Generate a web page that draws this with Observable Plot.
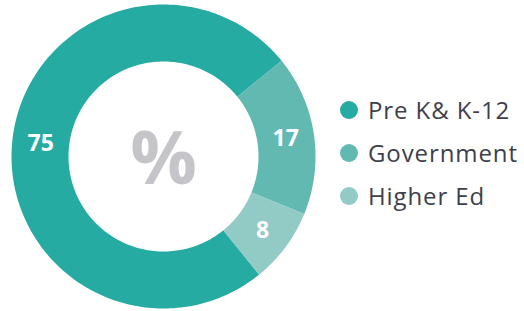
<!DOCTYPE html>
<html><head><meta charset="utf-8">
<script src="https://cdn.jsdelivr.net/npm/d3@7"></script>
<script src="https://cdn.jsdelivr.net/npm/@observablehq/plot@0.6"></script>
<style>
body{margin:0;background:#fff;font-family:"Open Sans",sans-serif;}
#wrap{display:flex;width:524px;height:311px;overflow:hidden;}
.legend{margin-top:88px;margin-left:20px;}
.row{display:flex;align-items:center;height:43px;font-size:24px;letter-spacing:0.9px;color:#3e3f4a;white-space:nowrap;}
.sw{width:18px;height:18px;border-radius:50%;margin-right:10px;flex:none;}
</style></head><body><div id="wrap"></div>
<script>
const categories = ["Pre K& K-12", "Government", "Higher Ed"];
const values = [75, 17, 8];
const colors = ["#25aba2", "#62b9b2", "#92cac5"];
const centerLabel = "%";

const startDeg = 141;
const innerR = 0.625, outerR = 1;
const arcs = d3.pie().sort(null).value(d => d.value)
  .startAngle(startDeg * Math.PI / 180).endAngle(startDeg * Math.PI / 180 + 2 * Math.PI)(
    categories.map((c, i) => ({category: c, value: values[i]})));

const pts = [];
for (const a of arcs) {
  const n = 200;
  for (let k = 0; k <= n; k++) {
    const t = a.startAngle + (a.endAngle - a.startAngle) * k / n;
    pts.push({category: a.data.category, x: outerR * Math.sin(t), y: outerR * Math.cos(t)});
  }
  for (let k = n; k >= 0; k--) {
    const t = a.startAngle + (a.endAngle - a.startAngle) * k / n;
    pts.push({category: a.data.category, x: innerR * Math.sin(t), y: innerR * Math.cos(t)});
  }
}
const labelR = (innerR + outerR) / 2;
const labels = arcs.map(a => {
  const m = (a.startAngle + a.endAngle) / 2;
  return {text: String(a.data.value), x: labelR * Math.sin(m), y: labelR * Math.cos(m)};
});

const chart = Plot.plot({
  width: 320, height: 311,
  marginLeft: 11, marginRight: 5, marginTop: 4, marginBottom: 3,
  x: {domain: [-1, 1], axis: null},
  y: {domain: [-1, 1], axis: null},
  color: {domain: categories, range: colors},
  style: {background: "transparent"},
  marks: [
    Plot.line(pts, {x: "x", y: "y", z: "category", fill: "category", stroke: null}),
    Plot.text(labels, {x: "x", y: "y", text: "text", fill: "white", fontSize: 23, fontWeight: "bold", fontFamily: "Open Sans"}),
    Plot.text([centerLabel], {x: [0], y: [0], text: d => d, fill: "#c5c4c9", fontSize: 74, fontWeight: "bold", fontFamily: "Open Sans", dy: 4})
  ]
});

const wrap = document.getElementById("wrap");
wrap.appendChild(chart);
const legend = document.createElement("div");
legend.className = "legend";
categories.forEach((c, i) => {
  const row = document.createElement("div");
  row.className = "row";
  const sw = document.createElement("span");
  sw.className = "sw";
  sw.style.background = colors[i];
  const t = document.createElement("span");
  t.textContent = c;
  row.appendChild(sw); row.appendChild(t);
  legend.appendChild(row);
});
wrap.appendChild(legend);
</script></body></html>
